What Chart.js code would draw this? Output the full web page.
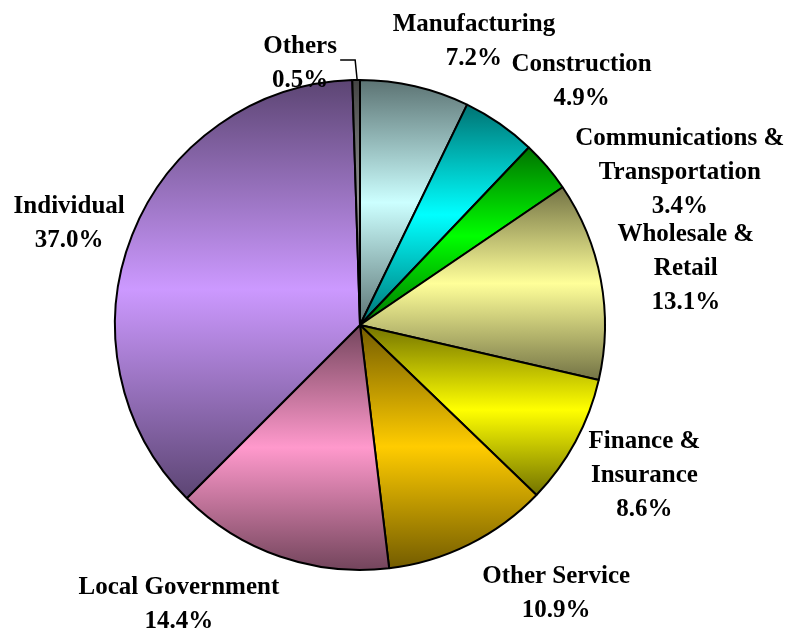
<!DOCTYPE html>
<html>
<head>
<meta charset="utf-8">
<script src="https://cdn.jsdelivr.net/npm/chart.js@4.4.1/dist/chart.umd.min.js"></script>
<style>
html,body{margin:0;padding:0;background:#fff;}
#wrap{width:796px;height:630px;}
</style>
</head>
<body>
<div id="wrap"><canvas id="c" width="796" height="630"></canvas></div>
<script>
// ---- data ----
const categories = ["Manufacturing", "Construction", "Communications & Transportation", "Wholesale & Retail", "Finance & Insurance", "Other Service", "Local Government", "Individual", "Others"];
const labelLines = [["Manufacturing"], ["Construction"], ["Communications &", "Transportation"], ["Wholesale &", "Retail"], ["Finance &", "Insurance"], ["Other Service"], ["Local Government"], ["Individual"], ["Others"]];
const shares = [7.2, 4.9, 3.4, 13.1, 8.6, 10.9, 14.4, 37.0, 0.5];

// ---- styles ----
const baseColors = ["#CCFFFF", "#00FFFF", "#00FF00", "#FFFF99", "#FFFF00", "#FFCC00", "#FF99CC", "#CC99FF", "#969696"];
// label block center offsets relative to the slice's outer-edge midpoint
const labelOffsets = [[59,-47],[82,-44],[133,4],[85,-13],[69,32],[87,47],[-101,46],[-63,-13],[-56,-19]];

function darken(hex, f){
  const n = parseInt(hex.slice(1),16);
  const r=(n>>16)&255,g=(n>>8)&255,b=n&255;
  return `rgb(${Math.round(r*f)},${Math.round(g*f)},${Math.round(b*f)})`;
}

const gradientPlugin = {
  id:'grad',
  beforeDatasetsDraw(chart){
    const ctx = chart.ctx;
    const meta = chart.getDatasetMeta(0);
    meta.data.forEach((arc,i)=>{
      const p = arc.getProps(['x','y','startAngle','endAngle','outerRadius'], true);
      let ys=[p.y];
      const steps=60;
      for(let k=0;k<=steps;k++){
        const a=p.startAngle+(p.endAngle-p.startAngle)*k/steps;
        ys.push(p.y+p.outerRadius*Math.sin(a));
      }
      const top=Math.min(...ys), bot=Math.max(...ys);
      const g=ctx.createLinearGradient(0,top,0,bot+0.01);
      const dark=darken(baseColors[i],0.45);
      g.addColorStop(0,dark);
      g.addColorStop(0.5,baseColors[i]);
      g.addColorStop(1,dark);
      arc.options.backgroundColor=g;
    });
  }
};

const labelPlugin = {
  id:'labels',
  afterDatasetsDraw(chart){
    const ctx=chart.ctx;
    const meta=chart.getDatasetMeta(0);
    ctx.save();
    ctx.font='bold 25px "Liberation Serif", "Times New Roman", serif';
    ctx.fillStyle='#000';
    ctx.textAlign='center';
    ctx.textBaseline='alphabetic';
    const lh=34;
    meta.data.forEach((arc,i)=>{
      const p=arc.getProps(['x','y','startAngle','endAngle','outerRadius'], true);
      const mid=(p.startAngle+p.endAngle)/2;
      const ex=p.x+p.outerRadius*Math.cos(mid);
      const ey=p.y+p.outerRadius*Math.sin(mid);
      const cx=ex+labelOffsets[i][0], cy=ey+labelOffsets[i][1];
      const lines=labelLines[i].concat([shares[i].toFixed(1)+'%']);
      const y0=cy-(lines.length-1)*lh/2;
      lines.forEach((t,k)=>{
        ctx.fillText(t,cx,y0+k*lh+8.5);
      });
      if(categories[i]==="Others"){
        ctx.strokeStyle='#000';
        ctx.lineWidth=1.5;
        ctx.beginPath();
        ctx.moveTo(cx+40,cy-1);
        ctx.lineTo(ex-1,cy-1);
        ctx.lineTo(ex+1,ey);
        ctx.stroke();
      }
    });
    ctx.restore();
  }
};

new Chart(document.getElementById('c'),{
  type:'pie',
  data:{
    labels:categories,
    datasets:[{
      data:shares,
      backgroundColor:baseColors,
      borderColor:'#000',
      borderWidth:2,
      borderAlign:'center'
    }]
  },
  options:{
    responsive:false,
    animation:false,
    layout:{padding:{left:114,right:190,top:79,bottom:59}},
    plugins:{legend:{display:false},tooltip:{enabled:false},title:{display:false}},
    events:[]
  },
  plugins:[gradientPlugin,labelPlugin]
});
</script>
</body>
</html>
